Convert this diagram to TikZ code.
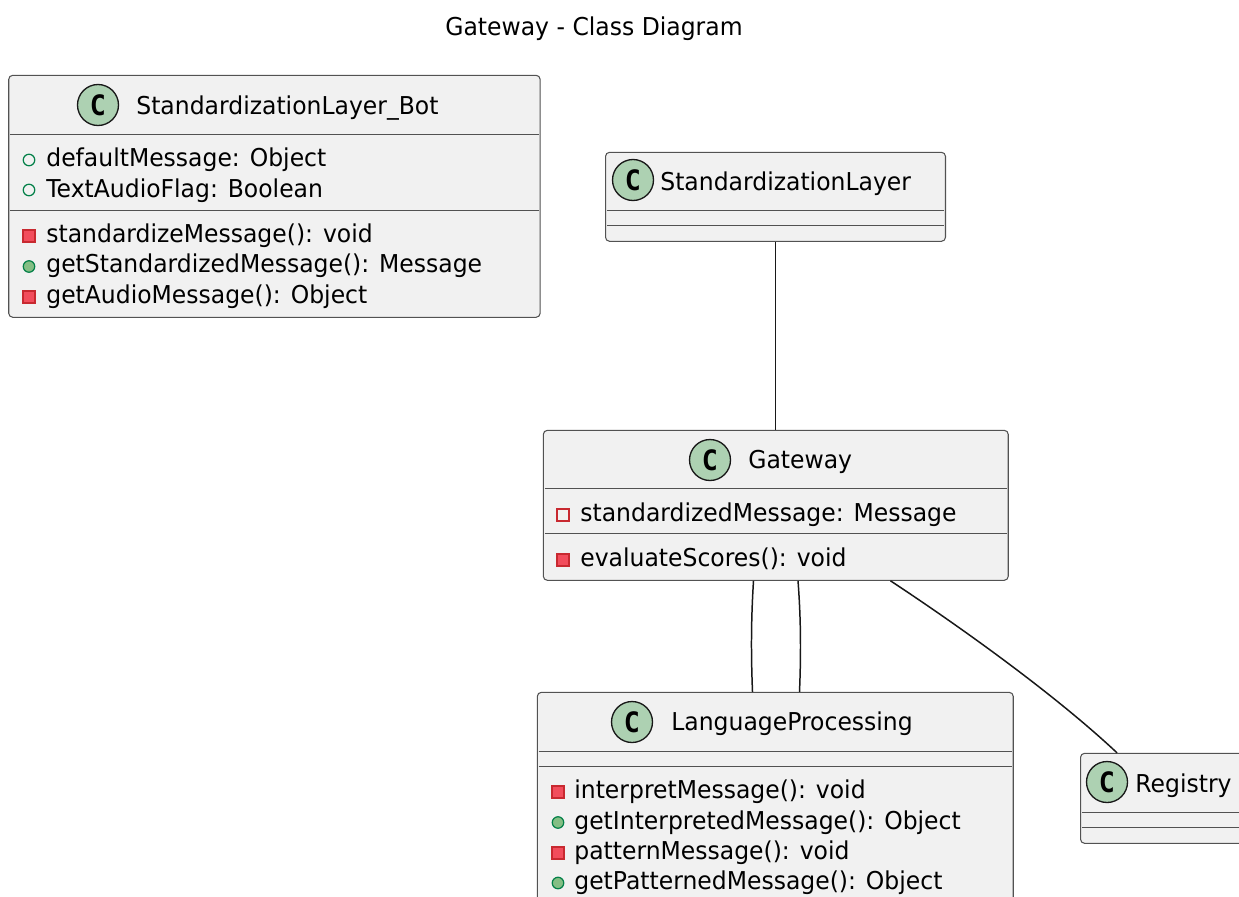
\documentclass[tikz,border=0pt]{standalone}
\usepackage{fontspec}
\setmainfont[FakeStretch=0.955]{DejaVu Sans}
\newfontfamily\spotfont[FakeStretch=0.95]{DejaVu Sans Mono}
\usetikzlibrary{positioning,calc}
\definecolor{classfill}{HTML}{F1F1F1}
\definecolor{classline}{HTML}{181818}
\definecolor{spotfill}{HTML}{ADD1B2}
\definecolor{pubfill}{HTML}{84BE84}
\definecolor{publine}{HTML}{038048}
\definecolor{privfill}{HTML}{F24D5C}
\definecolor{privline}{HTML}{C82930}

\begin{document}
\begin{tikzpicture}[
      x=0.02cm, y=-0.02cm,
      class/.style={rectangle, draw=classline!75, line width=0.6pt, fill=classfill, rounded corners=0.08cm, anchor=north west, inner sep=0pt},
      spot/.style={circle, draw=classline, line width=0.75pt, fill=spotfill, minimum size=0.82cm, inner sep=0pt, font=\fontsize{16}{16}\spotfont\bfseries},
      label/.style={anchor=base west, inner sep=0pt, font=\fontsize{14}{17}\selectfont},
      sep/.style={draw=classline!75, line width=0.6pt, shorten <=1pt, shorten >=1pt},
      link/.style={draw=classline, line width=0.85pt},
      pubfield/.style={circle, draw=publine, line width=0.7pt, minimum size=0.23cm, inner sep=0pt},
      pubmethod/.style={pubfield, fill=pubfill},
      privfield/.style={rectangle, draw=privline, line width=0.7pt, minimum size=0.24cm, inner sep=0pt},
      privmethod/.style={privfield, fill=privfill}
      ]
      \clip (0,0) rectangle (1239,896);
      \node[label] (TITLE) at (445,35) {Gateway - Class Diagram};

      % StandardizationLayer_Bot
      \node[class, minimum width=10.63cm, minimum height=4.84cm] (BOT) at (8.2,74.8) {};
      \node[spot] (BOTC) at (98,105) {C};
      \node[label] (BOTN) at (136,114) {StandardizationLayer\_Bot};
      \draw[sep] (BOT.west |- 0,134.8) -- (BOT.east |- 0,134.8);
      \draw[sep] (BOT.west |- 0,210.8) -- (BOT.east |- 0,210.8);
      \node[pubfield] (BOTI1) at (29,160) {};
      \node[label] (BOTF1) at (46,166.5) {defaultMessage: Object};
      \node[pubfield] (BOTI2) at (29,190) {};
      \node[label] (BOTF2) at (46,197) {TextAudioFlag: Boolean};
      \node[privmethod] (BOTI3) at (29,236) {};
      \node[label] (BOTM1) at (46,242.5) {standardizeMessage(): void};
      \node[pubmethod] (BOTI4) at (29,266.5) {};
      \node[label] (BOTM2) at (46,272.5) {getStandardizedMessage(): Message};
      \node[privmethod] (BOTI5) at (29,297) {};
      \node[label] (BOTM3) at (46,303.5) {getAudioMessage(): Object};

      % StandardizationLayer
      \node[class, minimum width=6.8cm, minimum height=1.78cm] (SL) at (605,151.8) {};
      \node[spot] (SLC) at (633,180) {C};
      \node[label] (SLN) at (660,190) {StandardizationLayer};
      \draw[sep] (SL.west |- 0,210.8) -- (SL.east |- 0,210.8);
      \draw[sep] (SL.west |- 0,225.8) -- (SL.east |- 0,225.8);

      % Gateway
      \node[class, minimum width=9.3cm, minimum height=3cm] (GW) at (542.8,429.8) {};
      \node[spot] (GWC) at (710,460) {C};
      \node[label] (GWN) at (748,468) {Gateway};
      \draw[sep] (GW.west |- 0,488.8) -- (GW.east |- 0,488.8);
      \draw[sep] (GW.west |- 0,533.8) -- (GW.east |- 0,533.8);
      \node[privfield, fill=none] (GWI1) at (563,515) {};
      \node[label] (GWF1) at (580,521.5) {standardizedMessage: Message};
      \node[privmethod] (GWI2) at (563,560) {};
      \node[label] (GWM1) at (580,566.5) {evaluateScores(): void};

      % LanguageProcessing
      \node[class, minimum width=9.52cm, minimum height=4.4cm] (LP) at (536.8,691.8) {};
      \node[spot] (LPC) at (632,722) {C};
      \node[label] (LPN) at (671,730.5) {LanguageProcessing};
      \draw[sep] (LP.west |- 0,751.5) -- (LP.east |- 0,751.5);
      \draw[sep] (LP.west |- 0,766.5) -- (LP.east |- 0,766.5);
      \node[privmethod] (LPI1) at (558,792) {};
      \node[label] (LPM1) at (574,798.5) {interpretMessage(): void};
      \node[pubmethod] (LPI2) at (558,822.5) {};
      \node[label] (LPM2) at (574,829) {getInterpretedMessage(): Object};
      \node[privmethod] (LPI3) at (558,853) {};
      \node[label] (LPM3) at (574,859.5) {patternMessage(): void};
      \node[pubmethod] (LPI4) at (558,883) {};
      \node[label] (LPM4) at (574,889.5) {getPatternedMessage(): Object};

      % Registry
      \node[class, minimum width=3.3cm, minimum height=1.8cm] (REG) at (1080,752.8) {};
      \node[spot] (REGC) at (1107,782) {C};
      \node[label] (REGN) at (1135,792) {Registry};
      \draw[sep] (REG.west |- 0,812.8) -- (REG.east |- 0,812.8);
      \draw[sep] (REG.west |- 0,827.8) -- (REG.east |- 0,827.8);

      % connectors
      \draw[link] (SL.south) -- (SL.south |- GW.north);
      \draw[link] (GW.south -| 753.5,0) .. controls (751,620) and (751,655) .. (LP.north -| 752.5,0);
      \draw[link] (GW.south -| 798,0) .. controls (801,620) and (801,655) .. (LP.north -| 799.5,0);
      \draw[link] (GW.south -| 890.5,0) .. controls (950,620) and (1050,690) .. (REG.north -| 1117,0);
    \end{tikzpicture}
\end{document}
